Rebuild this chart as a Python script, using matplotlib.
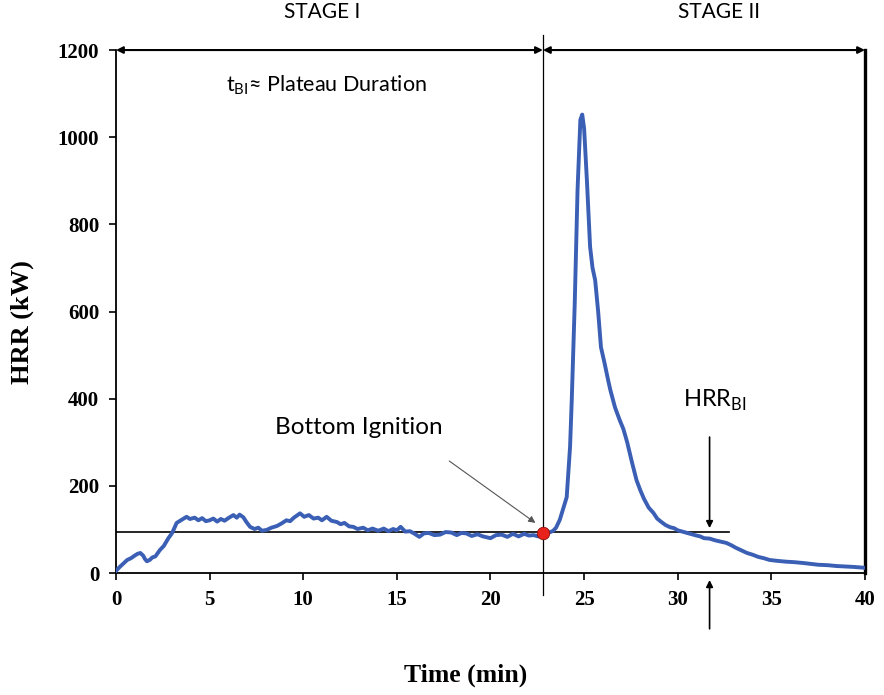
import matplotlib
matplotlib.use("Agg")
import matplotlib.pyplot as plt

plt.rcParams["mathtext.fontset"] = "custom"
plt.rcParams["mathtext.rm"] = "Lato"

# HRR curve (time in min, HRR in kW)
time_min = [0, 0.2, 0.4, 0.6, 0.8, 1.0, 1.15, 1.3, 1.45, 1.55, 1.65, 1.8, 1.95, 2.1, 2.35, 2.55,
            2.8, 3.0, 3.24, 3.5, 3.77, 3.95, 4.2, 4.4, 4.6, 4.8, 5.0, 5.2, 5.4, 5.6, 5.8,
            6.0, 6.27, 6.45, 6.6, 6.8, 6.95, 7.16, 7.4, 7.6, 7.8, 8.05, 8.3, 8.6, 8.85,
            9.1, 9.3, 9.5, 9.83, 10.05, 10.3, 10.55, 10.8, 11.0, 11.25, 11.5, 11.8, 12.0,
            12.2, 12.45, 12.67, 12.9, 13.2, 13.45, 13.7, 14.0, 14.3, 14.55, 14.8, 15.0,
            15.2, 15.45, 15.7, 15.95, 16.2, 16.45, 16.7, 17.0, 17.3, 17.6, 17.9, 18.2,
            18.45, 18.7, 19.0, 19.3, 19.6, 20.0, 20.3, 20.6, 20.9, 21.2, 21.5, 21.8,
            22.05, 22.3, 22.55, 22.8, 23.0, 23.2, 23.35, 23.5, 23.7, 23.9, 24.07,
            24.25, 24.34, 24.5, 24.65, 24.8, 24.9, 25.0, 25.15, 25.32, 25.45, 25.59,
            25.75, 25.9, 26.1, 26.28, 26.4, 26.65, 26.9, 27.1, 27.3, 27.55, 27.8, 28.0,
            28.2, 28.45, 28.7, 28.9, 29.1, 29.35, 29.6, 29.8, 30.0, 30.25, 30.5, 30.75,
            31.0, 31.2, 31.4, 31.7, 32.0, 32.3, 32.6, 32.85, 33.1, 33.4, 33.7, 34.0,
            34.3, 34.6, 34.9, 35.3, 35.8, 36.2, 36.7, 37.1, 37.5, 38.0, 38.5, 39.0,
            39.4, 39.7, 40.0]
hrr_kw = [5, 14, 22, 30, 34, 40, 44, 46, 40, 32, 27, 30, 36, 38, 53, 62,
          80, 92, 115, 122, 129, 124, 127, 121, 126, 119, 121, 125, 118, 124, 120,
          126, 133, 127, 134, 128, 118, 106, 101, 104, 97, 99, 104, 108, 114,
          121, 119, 127, 137, 129, 133, 125, 127, 121, 129, 120, 117, 112,
          115, 107, 106, 101, 104, 98, 102, 97, 102, 96, 101, 98,
          106, 95, 96, 90, 83, 91, 92, 87, 88, 94, 93, 87,
          92, 91, 85, 89, 84, 80, 87, 88, 83, 90, 84, 90,
          86, 87, 84, 92, 93, 94, 97, 104, 122, 150, 174,
          290, 397, 620, 880, 1040, 1052, 1020, 900, 748, 700, 672,
          600, 518, 480, 443, 420, 380, 351, 330, 300, 255, 213, 190,
          170, 150, 138, 125, 118, 110, 105, 103, 98, 95, 92, 89,
          86, 84, 80, 79, 75, 72, 69, 64, 58, 52, 46, 42,
          37, 34, 30, 28, 26, 25, 23, 21, 19, 18, 16, 15,
          14, 13, 12]

t_bi = 22.8
hrr_bi = 95
hrr_bi_time = 31.7

fig = plt.figure(figsize=(8.84, 6.95), dpi=100)
ax = fig.add_axes([0.1312, 0.1755, 0.8473, 0.7525])

ax.plot(time_min, hrr_kw, color="#3a5fb4", linewidth=2.8, zorder=3)

# plateau level and bottom ignition point
ax.plot([0, 32.75], [hrr_bi, hrr_bi], color="black", linewidth=1.2, zorder=2)
ax.plot([t_bi, t_bi], [-50, 1235], color="black", linewidth=0.9, clip_on=False, zorder=2)
ax.plot(t_bi, 92, "o", color="#e8221b", markeredgecolor="#8a1010", markersize=9,
        markeredgewidth=0.6, zorder=4)

ax.set_xlim(0, 40)
ax.set_ylim(0, 1200)
ax.set_xticks([0, 5, 10, 15, 20, 25, 30, 35, 40])
ax.set_yticks([0, 200, 400, 600, 800, 1000, 1200])

serif = {"family": "Liberation Serif", "weight": "bold"}
ax.set_xticklabels([str(v) for v in ax.get_xticks().astype(int)], fontdict=serif, fontsize=15)
ax.set_yticklabels([str(v) for v in ax.get_yticks().astype(int)], fontdict=serif, fontsize=15)
ax.tick_params(direction="out", length=5, width=1.2, pad=7)

ax.spines["top"].set_visible(False)
ax.spines["right"].set_linewidth(2.4)
ax.spines["left"].set_linewidth(1.3)
ax.spines["bottom"].set_linewidth(1.3)

ax.set_ylabel("HRR (kW)", fontdict=serif, fontsize=19)
ax.yaxis.set_label_coords(-0.11, 0.48)
ax.set_xlabel("Time (min)", fontdict=serif, fontsize=18.5)
ax.xaxis.set_label_coords(0.467, -0.174)

# stage arrows
for x0, x1 in [(0, t_bi), (t_bi, 40)]:
    ax.annotate("", xy=(x0, 1200), xytext=(x1, 1200),
                arrowprops=dict(arrowstyle="<|-|>", color="black", lw=1.5, mutation_scale=10,
                                shrinkA=0, shrinkB=0), annotation_clip=False)

sans = "Lato"
ax.text(11.0, 1265, "STAGE I", fontsize=15, family=sans, ha="center", va="bottom")
ax.text(32.2, 1265, "STAGE II", fontsize=15, family=sans, ha="center", va="bottom")
ax.text(5.85, 1120, r"t$_{\mathrm{BI}}$≈ Plateau Duration", fontsize=15.5, family=sans,
        ha="left", va="center")
ax.text(12.95, 333, "Bottom Ignition", fontsize=17.5, family=sans, ha="center", va="center")
ax.text(32.0, 397, r"HRR$_{\mathrm{BI}}$", fontsize=17, family=sans, ha="center", va="center")

ax.annotate("", xy=(22.4, 115), xytext=(17.8, 257),
            arrowprops=dict(arrowstyle="-|>", color="#555555", lw=0.8, mutation_scale=10,
                            shrinkA=0, shrinkB=0))
ax.annotate("", xy=(hrr_bi_time, 103), xytext=(hrr_bi_time, 312),
            arrowprops=dict(arrowstyle="-|>", color="black", lw=1.2, mutation_scale=10,
                            shrinkA=0, shrinkB=0))
ax.annotate("", xy=(hrr_bi_time, -16), xytext=(hrr_bi_time, -128),
            arrowprops=dict(arrowstyle="-|>", color="black", lw=1.2, mutation_scale=10,
                            shrinkA=0, shrinkB=0), annotation_clip=False)

fig.savefig("out.png", dpi=100)
